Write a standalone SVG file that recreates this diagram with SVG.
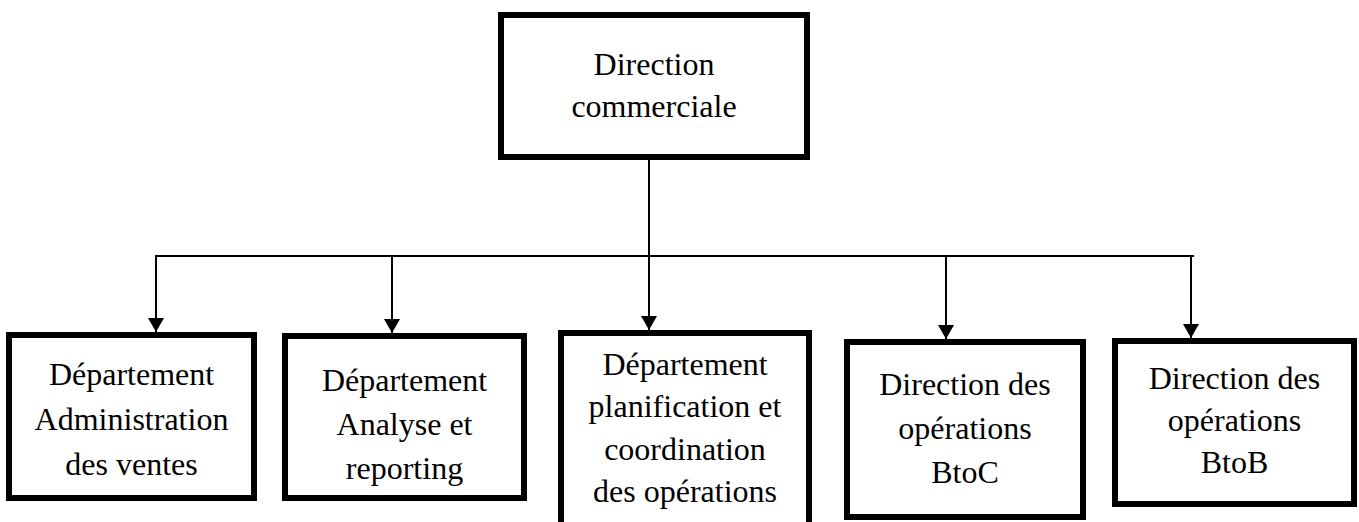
<svg xmlns="http://www.w3.org/2000/svg" width="1359" height="522" viewBox="0 0 1359 522">
  <style>
    .box { fill: #ffffff; stroke: #000000; stroke-width: 6; }
    .lbl { font-family: "Liberation Serif", "Times New Roman", serif; font-size: 32px; fill: #000000; text-anchor: middle; }
    .wire { fill: none; stroke: #000000; stroke-width: 2; }
  </style>
  <defs>
    <marker id="arrow" viewBox="0 0 14 16" refX="14" refY="8" markerWidth="14" markerHeight="16" markerUnits="userSpaceOnUse" orient="auto">
      <path d="M0,0 L14,8 L0,16 z" fill="#000000"/>
    </marker>
  </defs>
  <rect width="1359" height="522" fill="#ffffff"/>

  <!-- connectors -->
  <g id="connectors">
    <line class="wire" x1="649" y1="160" x2="649" y2="256"/>
    <line class="wire" x1="155" y1="256" x2="1194" y2="256"/>
    <line class="wire" x1="156" y1="256" x2="156" y2="332" marker-end="url(#arrow)"/>
    <line class="wire" x1="392" y1="256" x2="392" y2="333" marker-end="url(#arrow)"/>
    <line class="wire" x1="649" y1="256" x2="649" y2="330" marker-end="url(#arrow)"/>
    <line class="wire" x1="946" y1="256" x2="946" y2="339" marker-end="url(#arrow)"/>
    <line class="wire" x1="1191" y1="256" x2="1191" y2="338" marker-end="url(#arrow)"/>
  </g>

  <!-- top node -->
  <g id="direction-commerciale">
    <rect class="box" x="501" y="15" width="306" height="142"/>
    <text class="lbl" x="654" y="75">Direction</text>
    <text class="lbl" x="654" y="117">commerciale</text>
  </g>

  <g id="dept-administration-ventes">
    <rect class="box" x="9" y="335" width="245" height="163"/>
    <text class="lbl" x="131.5" y="385">Département</text>
    <text class="lbl" x="131.5" y="430">Administration</text>
    <text class="lbl" x="131.5" y="475">des ventes</text>
  </g>

  <g id="dept-analyse-reporting">
    <rect class="box" x="285" y="336" width="239" height="162"/>
    <text class="lbl" x="404.5" y="391">Département</text>
    <text class="lbl" x="404.5" y="435">Analyse et</text>
    <text class="lbl" x="404.5" y="479">reporting</text>
  </g>

  <g id="dept-planification-coordination">
    <rect class="box" x="561" y="333" width="248" height="200"/>
    <text class="lbl" x="685" y="375">Département</text>
    <text class="lbl" x="685" y="417">planification et</text>
    <text class="lbl" x="685" y="460">coordination</text>
    <text class="lbl" x="685" y="502">des opérations</text>
  </g>

  <g id="direction-operations-btoc">
    <rect class="box" x="847" y="342" width="236" height="175"/>
    <text class="lbl" x="965" y="395">Direction des</text>
    <text class="lbl" x="965" y="439">opérations</text>
    <text class="lbl" x="965" y="483">BtoC</text>
  </g>

  <g id="direction-operations-btob">
    <rect class="box" x="1115" y="341" width="239" height="163"/>
    <text class="lbl" x="1234.5" y="389">Direction des</text>
    <text class="lbl" x="1234.5" y="431">opérations</text>
    <text class="lbl" x="1234.5" y="473">BtoB</text>
  </g>
</svg>
